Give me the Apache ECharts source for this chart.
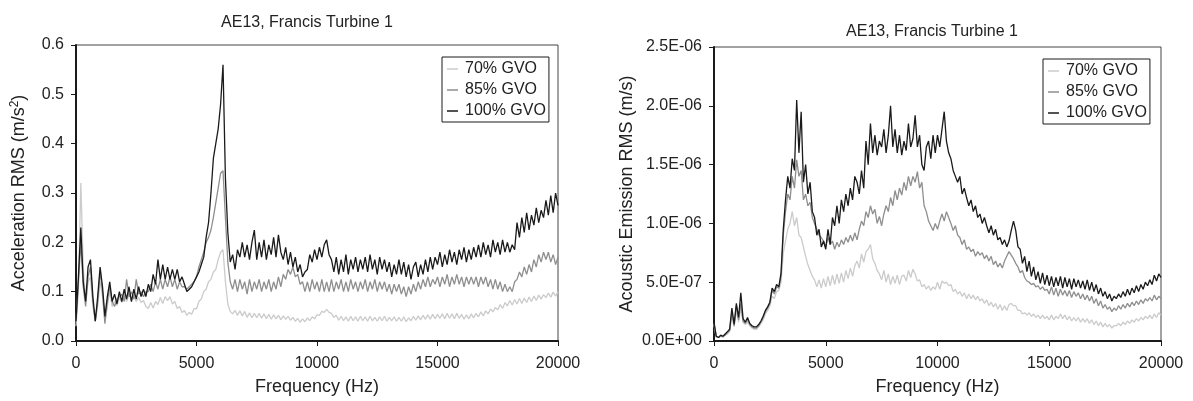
<!DOCTYPE html>
<html>
<head>
<meta charset="utf-8">
<title>AE13, Francis Turbine 1</title>
<script src="https://cdn.jsdelivr.net/npm/echarts@6/dist/echarts.min.js"></script>
<style>
  html, body { margin: 0; padding: 0; background: #fff; }
  #chart { width: 1193px; height: 401px; }
</style>
</head>
<body>
<div id="chart"></div>
<script>
// sample spacing of the spectra (Hz), index i -> i * FREQ_STEP
var FREQ_STEP = 100;
var seriesNames = ["70% GVO", "85% GVO", "100% GVO"];
var xTicks = [0, 5000, 10000, 15000, 20000];
var accelTicks = [0, 0.1, 0.2, 0.3, 0.4, 0.5, 0.6];
// acoustic emission tick values, in units of 1e-7 m/s
var aeTicks = [0, 5, 10, 15, 20, 25];

// left panel: acceleration RMS (m/s^2)
var accel70 = [
  0.03, 0.10, 0.32, 0.15, 0.08, 0.12, 0.13, 0.07, 0.04, 0.07, 0.12, 0.09, 0.04, 0.07, 0.10,
  0.07, 0.08, 0.072, 0.088, 0.078, 0.092, 0.08, 0.094, 0.082, 0.09, 0.08, 0.088, 0.078, 0.082, 0.07,
  0.066, 0.078, 0.067, 0.08, 0.074, 0.088, 0.076, 0.09, 0.082, 0.09, 0.075, 0.08, 0.066, 0.07, 0.058,
  0.062, 0.052, 0.058, 0.054, 0.066, 0.065, 0.08, 0.085, 0.10, 0.105, 0.12, 0.125, 0.14, 0.145, 0.165,
  0.18, 0.185, 0.12, 0.075, 0.06, 0.055, 0.062, 0.052, 0.061, 0.051, 0.06, 0.048, 0.057, 0.047, 0.056,
  0.047, 0.056, 0.046, 0.055, 0.045, 0.054, 0.044, 0.053, 0.045, 0.052, 0.043, 0.051, 0.044, 0.05, 0.042,
  0.048, 0.04, 0.046, 0.038, 0.045, 0.039, 0.047, 0.041, 0.049, 0.045, 0.053, 0.052, 0.06, 0.058, 0.064,
  0.058, 0.056, 0.048, 0.052, 0.042, 0.05, 0.041, 0.049, 0.04, 0.05, 0.041, 0.049, 0.04, 0.05, 0.041,
  0.049, 0.04, 0.05, 0.041, 0.048, 0.04, 0.049, 0.041, 0.05, 0.04, 0.048, 0.041, 0.049, 0.04, 0.048,
  0.04, 0.049, 0.039, 0.047, 0.041, 0.05, 0.042, 0.051, 0.043, 0.052, 0.044, 0.053, 0.044, 0.054, 0.045,
  0.054, 0.046, 0.055, 0.045, 0.056, 0.046, 0.055, 0.045, 0.056, 0.046, 0.054, 0.044, 0.053, 0.045, 0.055,
  0.047, 0.056, 0.049, 0.059, 0.051, 0.061, 0.055, 0.065, 0.059, 0.068, 0.063, 0.074, 0.066, 0.078, 0.071,
  0.082, 0.073, 0.084, 0.075, 0.086, 0.076, 0.087, 0.078, 0.089, 0.08, 0.091, 0.082, 0.093, 0.085, 0.094,
  0.088, 0.097, 0.089, 0.099, 0.091, 0.10
];
var accel85 = [
  0.04, 0.12, 0.20, 0.11, 0.07, 0.13, 0.15, 0.08, 0.04, 0.08, 0.14, 0.10, 0.035, 0.08, 0.11,
  0.08, 0.07, 0.085, 0.09, 0.095, 0.08, 0.125, 0.09, 0.10, 0.085, 0.125, 0.095, 0.10, 0.09, 0.10,
  0.10, 0.115, 0.10, 0.12, 0.105, 0.125, 0.105, 0.125, 0.11, 0.13, 0.11, 0.125, 0.105, 0.12, 0.11,
  0.11, 0.105, 0.11, 0.115, 0.12, 0.13, 0.15, 0.165, 0.18, 0.20, 0.21, 0.225, 0.25, 0.28, 0.31,
  0.34, 0.345, 0.25, 0.16, 0.12, 0.105, 0.125, 0.10, 0.125, 0.105, 0.12, 0.095, 0.125, 0.10, 0.12,
  0.105, 0.125, 0.10, 0.12, 0.105, 0.125, 0.10, 0.12, 0.105, 0.13, 0.11, 0.135, 0.125, 0.145, 0.135,
  0.15, 0.13, 0.135, 0.115, 0.12, 0.10, 0.12, 0.10, 0.125, 0.105, 0.12, 0.10, 0.125, 0.10, 0.12,
  0.10, 0.125, 0.10, 0.12, 0.105, 0.125, 0.10, 0.12, 0.10, 0.125, 0.105, 0.12, 0.10, 0.12, 0.105,
  0.125, 0.10, 0.12, 0.105, 0.125, 0.10, 0.12, 0.105, 0.12, 0.10, 0.115, 0.095, 0.115, 0.10, 0.115,
  0.095, 0.11, 0.09, 0.11, 0.095, 0.115, 0.10, 0.12, 0.105, 0.125, 0.11, 0.13, 0.11, 0.125, 0.115,
  0.13, 0.11, 0.13, 0.115, 0.135, 0.11, 0.13, 0.115, 0.135, 0.115, 0.13, 0.11, 0.13, 0.115, 0.13,
  0.115, 0.13, 0.11, 0.13, 0.115, 0.13, 0.11, 0.125, 0.105, 0.125, 0.105, 0.12, 0.10, 0.115, 0.10,
  0.11, 0.10, 0.12, 0.125, 0.14, 0.13, 0.15, 0.135, 0.155, 0.14, 0.165, 0.15, 0.175, 0.16, 0.18,
  0.165, 0.18, 0.16, 0.175, 0.155, 0.17
];
var accel100 = [
  0.04, 0.13, 0.23, 0.12, 0.08, 0.15, 0.165, 0.09, 0.04, 0.09, 0.15, 0.11, 0.05, 0.09, 0.12,
  0.08, 0.095, 0.075, 0.10, 0.08, 0.105, 0.085, 0.11, 0.08, 0.105, 0.085, 0.11, 0.09, 0.105, 0.09,
  0.115, 0.10, 0.135, 0.115, 0.165, 0.125, 0.155, 0.125, 0.15, 0.125, 0.145, 0.125, 0.145, 0.12, 0.13,
  0.115, 0.10, 0.105, 0.11, 0.12, 0.13, 0.14, 0.155, 0.17, 0.21, 0.24, 0.30, 0.37, 0.40, 0.43,
  0.48, 0.56, 0.33, 0.22, 0.16, 0.175, 0.145, 0.185, 0.17, 0.20, 0.17, 0.195, 0.165, 0.20, 0.225,
  0.165, 0.20, 0.17, 0.205, 0.165, 0.195, 0.175, 0.21, 0.17, 0.215, 0.18, 0.165, 0.19, 0.155, 0.18,
  0.15, 0.17, 0.14, 0.155, 0.13, 0.14, 0.145, 0.175, 0.16, 0.185, 0.165, 0.19, 0.17, 0.195, 0.205,
  0.175, 0.165, 0.14, 0.17, 0.135, 0.165, 0.14, 0.175, 0.135, 0.165, 0.145, 0.17, 0.14, 0.165, 0.145,
  0.17, 0.14, 0.175, 0.145, 0.165, 0.135, 0.17, 0.145, 0.165, 0.14, 0.16, 0.13, 0.155, 0.135, 0.165,
  0.135, 0.16, 0.13, 0.155, 0.125, 0.15, 0.16, 0.13, 0.155, 0.135, 0.165, 0.14, 0.17, 0.145, 0.17,
  0.155, 0.18, 0.15, 0.175, 0.155, 0.185, 0.16, 0.18, 0.155, 0.185, 0.165, 0.19, 0.16, 0.185, 0.165,
  0.19, 0.17, 0.195, 0.17, 0.20, 0.175, 0.195, 0.17, 0.205, 0.18, 0.20, 0.175, 0.205, 0.18, 0.20,
  0.18, 0.195, 0.185, 0.24, 0.21, 0.25, 0.22, 0.26, 0.225, 0.255, 0.235, 0.27, 0.24, 0.265, 0.25,
  0.285, 0.255, 0.295, 0.26, 0.30, 0.275
];

// right panel: acoustic emission RMS, in units of 1e-7 m/s
var ae70 = [
  1.4, 0.3, 0.3, 0.4, 0.3, 0.5, 0.6, 0.8, 2.2, 1.2, 2.6, 1.6, 2.8, 1.6, 1.4,
  1.6, 1.3, 1.1, 1.0, 1.0, 1.2, 1.5, 1.8, 2.3, 2.6, 3.0, 3.8, 3.6, 4.2, 4.3,
  5.0, 7.5, 8.5, 9.5, 10.0, 11.0, 9.8, 10.5, 9.0, 8.8, 8.0, 7.2, 6.5, 6.0, 5.5,
  5.2, 4.6, 5.2, 4.5, 5.3, 4.6, 5.5, 4.7, 5.6, 4.8, 5.7, 4.9, 5.8, 5.0, 6.0,
  5.3, 6.2, 5.5, 6.4, 6.8, 6.2, 7.4, 6.7, 7.6, 7.8, 8.2, 7.0, 6.6, 6.0, 5.7,
  5.2, 6.0, 5.0, 5.7, 4.8, 5.5, 4.9, 5.6, 4.8, 5.5, 5.6, 5.1, 6.0, 5.4, 6.1,
  5.7, 5.1, 5.2, 4.6, 4.8, 4.4, 4.7, 4.3, 4.6, 4.4, 5.0, 4.4, 5.1, 4.9, 5.0,
  4.7, 4.8, 4.2, 4.4, 4.0, 4.2, 3.8, 4.1, 3.6, 4.0, 3.6, 3.9, 3.5, 3.8, 3.4,
  3.6, 3.2, 3.5, 3.0, 3.3, 2.9, 3.2, 2.7, 3.1, 2.6, 3.0, 2.6, 3.1, 3.2, 3.0,
  3.0, 2.6, 2.6, 2.3, 2.4, 2.2, 2.4, 2.1, 2.3, 2.0, 2.2, 1.9, 2.2, 1.9, 2.1,
  1.8, 2.2, 1.8, 2.1, 1.9, 2.3, 1.9, 2.2, 1.8, 2.1, 1.7, 2.0, 1.7, 2.0, 1.6,
  1.9, 1.6, 1.9, 1.5, 1.8, 1.4, 1.7, 1.3, 1.6, 1.2, 1.5, 1.2, 1.4, 1.1, 1.3,
  1.3, 1.5, 1.3, 1.6, 1.4, 1.7, 1.5, 1.8, 1.6, 1.9, 1.7, 2.0, 1.8, 2.1, 1.9,
  2.2, 1.9, 2.3, 2.0, 2.4, 2.2
];
var ae85 = [
  1.5, 0.4, 0.3, 0.4, 0.4, 0.5, 0.7, 0.9, 2.5, 1.3, 3.0, 1.8, 3.2, 1.7, 1.5,
  1.8, 1.4, 1.2, 1.1, 1.1, 1.3, 1.6, 2.0, 2.5, 2.8, 3.2, 4.3, 4.0, 4.6, 4.5,
  5.5, 9.0, 11.0, 12.5, 12.0, 14.0, 13.0, 15.4, 14.0, 14.5, 12.0, 12.5, 11.5, 11.8, 10.5,
  10.0, 9.5, 9.0, 8.8, 8.5, 8.0, 8.8, 8.2, 8.5, 7.8, 8.4, 8.0, 8.6, 8.2, 8.8,
  8.4, 9.0, 8.5, 9.2, 8.6, 9.5, 10.2, 9.8, 11.0, 10.5, 11.5, 10.8, 11.2, 10.0, 10.6,
  9.8, 10.8, 11.5, 11.0, 12.2, 11.5, 12.8, 12.0, 13.0, 12.4, 13.5, 12.8, 14.0, 13.2, 14.0,
  13.5, 14.4, 13.0, 13.5, 11.5, 11.0, 10.2, 9.8, 9.4, 10.0, 9.5, 10.2, 10.8, 10.2, 11.0,
  10.5, 10.0, 9.4, 9.8, 9.0, 8.8, 8.2, 8.6, 7.8, 8.0, 7.6, 7.8, 7.2, 7.6, 7.3,
  7.5, 7.0, 7.3, 6.8, 7.2, 6.5, 6.8, 6.3, 6.6, 6.2, 6.8, 7.2, 7.6, 7.3, 7.0,
  6.6, 6.3, 5.8, 6.0, 5.4, 5.1, 5.0, 4.8, 4.9, 4.6, 4.7, 4.4, 4.6, 4.3, 4.4,
  4.0, 4.6, 3.9, 4.5, 3.8, 4.4, 3.9, 4.3, 3.8, 4.3, 3.7, 4.2, 3.8, 4.1, 3.6,
  4.0, 3.5, 3.9, 3.4, 3.8, 3.2, 3.6, 3.0, 3.4, 2.8, 3.1, 2.7, 2.9, 2.5, 2.8,
  2.6, 3.0, 2.7, 3.1, 2.8, 3.2, 2.9, 3.3, 3.0, 3.4, 3.1, 3.5, 3.2, 3.6, 3.4,
  3.7, 3.4, 3.9, 3.5, 3.8, 3.6
];
var ae100 = [
  1.6, 0.4, 0.3, 0.5, 0.4, 0.6, 0.8, 1.0, 2.8, 1.4, 3.2, 2.0, 4.1, 1.9, 1.6,
  2.0, 1.5, 1.3, 1.2, 1.2, 1.4, 1.7, 2.1, 2.6, 2.9, 3.3, 4.5, 4.2, 4.8, 4.6,
  5.8, 9.5, 12.0, 14.0, 13.0, 15.5, 14.5, 20.5, 16.0, 19.5, 13.5, 15.0, 12.5, 13.5, 11.0,
  10.5, 9.0, 9.5, 8.0, 8.5, 7.8, 9.5, 8.2, 10.5, 9.8, 11.5, 10.0, 12.0, 11.0, 12.5,
  11.5, 13.0, 12.0, 14.0, 13.5, 12.5, 14.5, 13.0, 17.0, 15.0, 18.5, 16.0, 17.5, 15.8, 17.0,
  16.5, 18.0, 16.0, 17.5, 20.0, 16.5, 18.0, 16.0, 17.5, 15.8, 17.0, 16.2, 18.5, 16.5, 17.2,
  19.2, 16.5, 17.5, 15.0, 14.5, 16.5, 17.0, 15.5, 17.5, 16.0, 17.5, 16.5, 18.0, 19.5, 17.0,
  16.0, 15.5, 14.5, 14.0, 13.5, 14.0, 12.5, 13.0, 12.2, 11.5, 12.0, 11.0, 11.5, 10.5, 10.8,
  10.0, 10.5, 9.8, 9.2, 9.8, 9.0, 9.5, 8.6, 8.8, 8.2, 8.6, 8.0, 8.5, 9.4, 10.2,
  9.4, 8.0, 7.8, 6.6, 7.2, 5.9, 6.8, 5.5, 6.3, 5.2, 5.9, 4.9, 5.8, 4.8, 5.6,
  4.7, 5.5, 4.6, 5.4, 4.7, 5.5, 4.5, 5.4, 4.6, 5.3, 4.4, 5.3, 4.6, 5.2, 4.5,
  5.1, 4.4, 5.2, 4.3, 5.0, 4.2, 4.8, 4.0, 4.5, 3.8, 4.2, 3.6, 4.0, 3.4, 3.8,
  3.6, 4.0, 3.7, 4.2, 3.8, 4.4, 3.9, 4.5, 4.1, 4.7, 4.2, 4.8, 4.4, 5.0, 4.7,
  5.2, 4.8, 5.6, 5.1, 5.7, 5.4
];

(function () {
  var lineColors = ["#cbcbcb", "#8e8e8e", "#1a1a1a"];
  var textColor = "#222";
  var fontFamily = "'Liberation Sans', Arial, sans-serif";

  // pair every value with its frequency
  function pairs(values) {
    return values.map(function (v, i) { return [i * FREQ_STEP, v]; });
  }

  // 5 -> 5.0E-07, 10 -> 1.0E-06 (values are in 1e-7 units)
  function sciLabel(v) {
    if (v === 0) return "0.0E+00";
    if (v >= 10) return (v / 10).toFixed(1) + "E-06";
    return v.toFixed(1) + "E-07";
  }

  function xAxis(gridIndex) {
    return {
      type: "value",
      gridIndex: gridIndex,
      min: xTicks[0],
      max: xTicks[xTicks.length - 1],
      interval: xTicks[1] - xTicks[0],
      name: "Frequency (Hz)",
      nameLocation: "middle",
      nameGap: 37,
      nameTextStyle: { fontSize: 18, color: textColor, fontFamily: fontFamily },
      axisLine: { lineStyle: { color: "#1a1a1a", width: 2 } },
      axisTick: { inside: false, length: 5, lineStyle: { color: "#1a1a1a", width: 1 } },
      axisLabel: {
        margin: 15, fontSize: 16, color: textColor, fontFamily: fontFamily,
        formatter: function (v) { return String(v); }
      },
      splitLine: { show: false }
    };
  }

  function lineSeries(name, color, idx, values) {
    return {
      name: name,
      type: "line",
      xAxisIndex: idx,
      yAxisIndex: idx,
      data: pairs(values),
      symbol: "none",
      lineStyle: { color: color, width: 1.3 },
      itemStyle: { color: color },
      silent: true
    };
  }

  function legend(left, top) {
    return {
      data: seriesNames,
      orient: "vertical",
      left: left,
      top: top,
      icon: "rect",
      itemWidth: 11,
      itemHeight: 1.5,
      itemGap: 5,
      padding: [4, 3, 3, 5],
      borderColor: "#1a1a1a",
      borderWidth: 1,
      textStyle: { fontSize: 16, color: textColor, fontFamily: fontFamily, padding: [0, 0, 0, 2] }
    };
  }

  var myEcharts = echarts.init(document.getElementById("chart"), null, { renderer: "canvas" });
  var option = {
    animation: false,
    backgroundColor: "#fff",
    title: [
      { text: "AE13, Francis Turbine 1", left: 302, top: 10, textAlign: "center",
        textStyle: { fontSize: 16, fontWeight: "normal", color: textColor, fontFamily: fontFamily } },
      { text: "AE13, Francis Turbine 1", left: 927, top: 19, textAlign: "center",
        textStyle: { fontSize: 16, fontWeight: "normal", color: textColor, fontFamily: fontFamily } }
    ],
    legend: [legend(442, 57), legend(1043, 59)],
    grid: [
      { left: 76, top: 45, width: 482, height: 299, show: true, borderColor: "#444", borderWidth: 1 },
      { left: 714, top: 47, width: 447, height: 297, show: true, borderColor: "#444", borderWidth: 1 }
    ],
    xAxis: [xAxis(0), xAxis(1)],
    yAxis: [
      {
        type: "value",
        gridIndex: 0,
        min: accelTicks[0],
        max: accelTicks[accelTicks.length - 1],
        interval: accelTicks[1] - accelTicks[0],
        name: "Acceleration RMS (m/s{sup|2})",
        nameLocation: "middle",
        nameGap: 46,
        nameTextStyle: {
          fontSize: 18, color: textColor, fontFamily: fontFamily,
          rich: { sup: { fontSize: 12, color: textColor, fontFamily: fontFamily, padding: [0, 0, 9, 0] } }
        },
        axisLine: { show: true, lineStyle: { color: "#1a1a1a", width: 2 } },
        axisTick: { show: true, inside: false, length: 5, lineStyle: { color: "#1a1a1a" } },
        axisLabel: {
          margin: 12, fontSize: 16, color: textColor, fontFamily: fontFamily,
          formatter: function (v) { return v.toFixed(1); }
        },
        splitLine: { show: false }
      },
      {
        type: "value",
        gridIndex: 1,
        min: aeTicks[0],
        max: aeTicks[aeTicks.length - 1],
        interval: aeTicks[1] - aeTicks[0],
        name: "Acoustic Emission RMS (m/s)",
        nameLocation: "middle",
        nameGap: 78,
        nameTextStyle: { fontSize: 18, color: textColor, fontFamily: fontFamily },
        axisLine: { show: true, lineStyle: { color: "#1a1a1a", width: 2 } },
        axisTick: { show: true, inside: false, length: 5, lineStyle: { color: "#1a1a1a" } },
        axisLabel: { margin: 12, fontSize: 16, color: textColor, fontFamily: fontFamily, formatter: sciLabel },
        splitLine: { show: false }
      }
    ],
    series: [
      lineSeries(seriesNames[0], lineColors[0], 0, accel70),
      lineSeries(seriesNames[1], lineColors[1], 0, accel85),
      lineSeries(seriesNames[2], lineColors[2], 0, accel100),
      lineSeries(seriesNames[0], lineColors[0], 1, ae70),
      lineSeries(seriesNames[1], lineColors[1], 1, ae85),
      lineSeries(seriesNames[2], lineColors[2], 1, ae100)
    ]
  };
  myEcharts.setOption(option);
  window.addEventListener("resize", function () {
    myEcharts.resize();
  });
})();
</script>
</body>
</html>
